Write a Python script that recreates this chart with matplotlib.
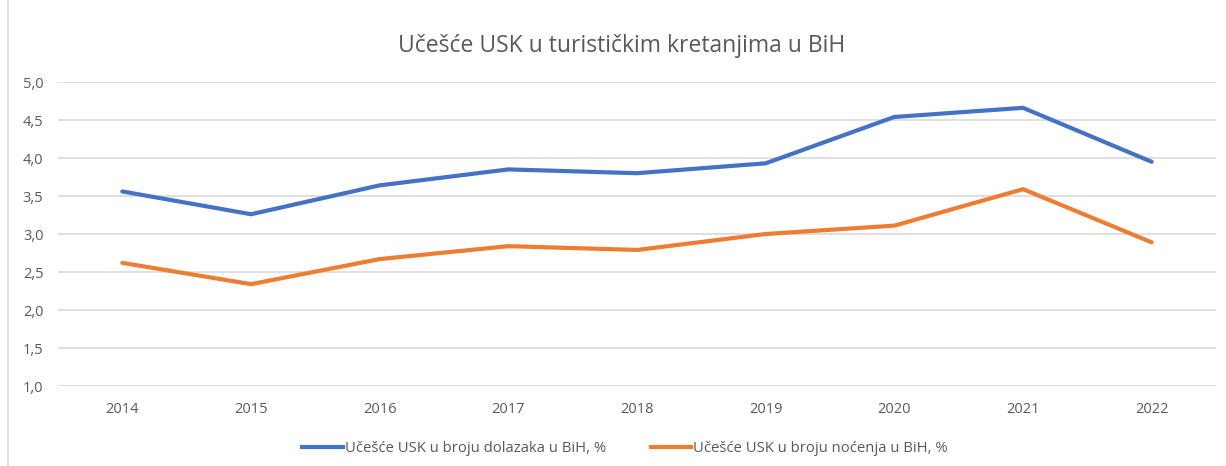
import matplotlib.pyplot as plt
from matplotlib.lines import Line2D
from matplotlib.ticker import FuncFormatter

years = ["2014", "2015", "2016", "2017", "2018", "2019", "2020", "2021", "2022"]
dolasci = [3.56, 3.26, 3.64, 3.85, 3.80, 3.93, 4.54, 4.66, 3.95]
nocenja = [2.62, 2.34, 2.67, 2.84, 2.79, 3.00, 3.11, 3.59, 2.89]
labels = ["Učešće USK u broju dolazaka u BiH, %", "Učešće USK u broju noćenja u BiH, %"]
title = "Učešće USK u turističkim kretanjima u BiH"

plt.rcParams["font.family"] = ["Open Sans", "DejaVu Sans"]
TXT = "#595959"

fig = plt.figure(figsize=(12.26, 4.66), dpi=100)
ax = fig.add_axes([58 / 1226, 1 - 386 / 466, 1158 / 1226, 304 / 466])

xs = range(len(years))
ax.plot(xs, dolasci, color="#4472C4", lw=3, solid_capstyle="round", zorder=3)
ax.plot(xs, nocenja, color="#ED7D31", lw=3, solid_capstyle="round", zorder=3)

ax.set_xlim(-0.5, len(years) - 0.5)
ax.set_ylim(1.0, 5.0)
ax.set_yticks([1.0, 1.5, 2.0, 2.5, 3.0, 3.5, 4.0, 4.5, 5.0])
ax.yaxis.set_major_formatter(FuncFormatter(lambda v, p: f"{v:.1f}".replace(".", ",")))
ax.set_xticks(list(xs))
ax.set_xticklabels(years)
ax.tick_params(axis="both", length=0, colors=TXT, labelsize=10.5)
ax.tick_params(axis="y", pad=10.5)
ax.tick_params(axis="x", pad=11.5)
ax.grid(axis="y", color="#D9D9D9", lw=1.2, zorder=0)
for s in ax.spines.values():
    s.set_visible(False)

fig.text(622 / 1226, 1 - 46 / 466, title, ha="center", va="center", fontsize=16.5, color=TXT)

handles = [Line2D([], [], color="#4472C4", lw=3), Line2D([], [], color="#ED7D31", lw=3)]
fig.legend(handles, labels, loc="center", bbox_to_anchor=(625 / 1226, 1 - 449 / 466),
           ncol=2, frameon=False, fontsize=10.7, labelcolor=TXT,
           handlelength=2.75, handletextpad=0.13, columnspacing=3.0)

# left border of chart area
fig.add_artist(Line2D([8 / 1226, 8 / 1226], [0, 1], color="#D9D9D9", lw=1.2))

fig.savefig("out.png", dpi=100)
